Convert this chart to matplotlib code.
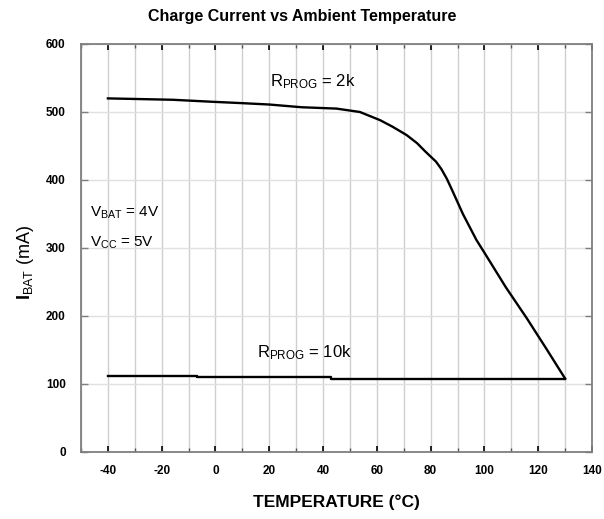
import matplotlib.pyplot as plt
from matplotlib.ticker import MultipleLocator

# data
temp_2k = [-40, -16, -1, 10, 20, 32, 45, 53.7, 61.2, 66, 71.1, 75, 78, 82, 84, 86,
           88, 92, 97, 100.8, 108, 115.7, 123, 130]
ibat_2k = [520, 518, 515, 513, 511, 507, 505, 500, 488, 478, 466, 454, 442, 427, 416, 402,
           385, 350, 312, 288, 242, 197, 152, 108]

temp_10k = [-40, -7, -7, 43, 43, 130]
ibat_10k = [112, 112, 110, 110, 108, 108]

x_ticks = [-40, -20, 0, 20, 40, 60, 80, 100, 120, 140]
x_ticklabels = ['-40', '-20', '0', '20', '40', '60', '80', '100', '120', '140']
y_ticks = [0, 100, 200, 300, 400, 500, 600]

plt.rcParams['font.family'] = ['Liberation Sans', 'DejaVu Sans']
plt.rcParams['mathtext.fontset'] = 'custom'
plt.rcParams['mathtext.rm'] = 'Liberation Sans'
plt.rcParams['mathtext.bf'] = 'Liberation Sans:bold'

W, H = 604, 519
fig = plt.figure(figsize=(W / 100, H / 100), dpi=100)
ax = fig.add_axes([81 / W, 1 - 452 / H, (592 - 81) / W, (452 - 44) / H])

ax.plot(temp_2k, ibat_2k, color='black', lw=1.7)
ax.plot(temp_10k, ibat_10k, color='black', lw=1.7)

ax.set_xlim(-50, 140)
ax.set_ylim(0, 600)
ax.set_xticks(x_ticks)
ax.set_xticklabels(x_ticklabels)
ax.xaxis.set_minor_locator(MultipleLocator(10))
ax.set_yticks(y_ticks)

ax.grid(True, which='both', axis='x', color='#cfcfcf', lw=1)
ax.grid(True, which='major', axis='y', color='#e0e0e0', lw=1)
ax.set_axisbelow(True)

for s in ax.spines.values():
    s.set_color('#7f7f7f')
    s.set_linewidth(1.3)

ax.tick_params(axis='x', which='major', direction='in', top=True, length=4, width=1.2,
               color='black', labelsize=8.5, pad=9)
ax.tick_params(axis='x', which='minor', direction='in', top=True, length=3, width=1,
               color='#555555')
ax.tick_params(axis='y', direction='in', right=True, length=5, width=1,
               color='#7f7f7f', labelsize=8.5, pad=11)
for lab in ax.get_xticklabels() + ax.get_yticklabels():
    lab.set_fontweight('bold')

# title, axis labels placed in pixel positions like the reference
fig.text(302 / W, 1 - 16 / H, 'Charge Current vs Ambient Temperature',
         fontsize=11.5, fontweight='bold', ha='center', va='center')
fig.text(336 / W, 1 - 502 / H, 'TEMPERATURE (°C)',
         fontsize=12.5, fontweight='bold', ha='center', va='center')
fig.text(25 / W, 1 - 262 / H, r'$\mathbf{I}_{\mathregular{BAT}}$ (mA)',
         fontsize=13, rotation=90, ha='center', va='center')

ax.text(20.3, 545, r'$\mathregular{R_{PROG}}$ = 2k', fontsize=12, va='center')
ax.text(15.4, 146, r'$\mathregular{R_{PROG}}$ = 10k', fontsize=12, va='center')
ax.text(-46.7, 352, r'$\mathregular{V_{BAT}}$ = 4V', fontsize=11, va='center')
ax.text(-46.7, 308, r'$\mathregular{V_{CC}}$ = 5V', fontsize=11, va='center')

fig.savefig('out.png', dpi=100)
